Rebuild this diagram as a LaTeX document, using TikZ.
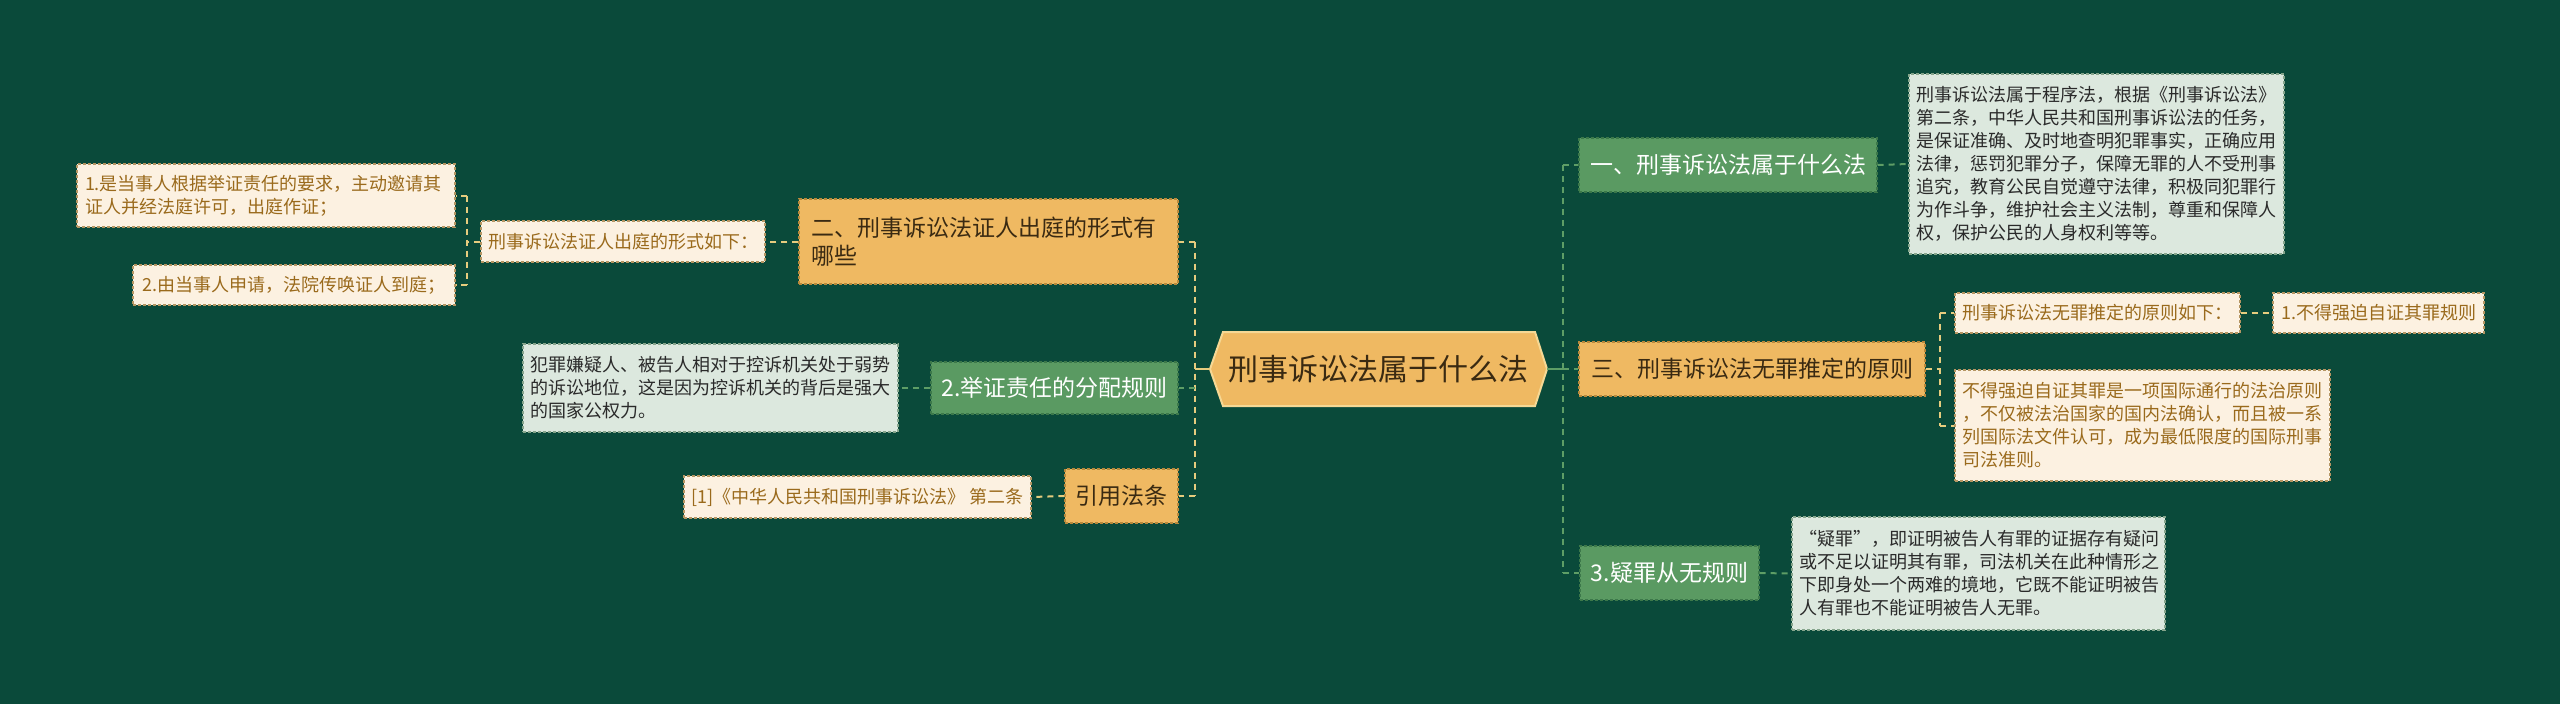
\documentclass[tikz,border=0pt]{standalone}
\usepackage{fontspec}
\setmainfont{Noto Sans CJK SC}
\usetikzlibrary{calc}
\definecolor{bg}{HTML}{0A4A3A}
\definecolor{ofill}{HTML}{EFB962}
\definecolor{oborder}{HTML}{B8893C}
\definecolor{otext}{HTML}{3A2A12}
\definecolor{gfill}{HTML}{5A9A62}
\definecolor{gborder}{HTML}{3C784A}
\definecolor{cfill}{HTML}{FCF1E1}
\definecolor{cborder}{HTML}{B59663}
\definecolor{ctext}{HTML}{9A6A1C}
\definecolor{dfill}{HTML}{DCE8DE}
\definecolor{dborder}{HTML}{86A58C}
\definecolor{dtext}{HTML}{2A2A2A}
\definecolor{yline}{HTML}{E6CC7E}
\definecolor{gline}{HTML}{5E9E66}
\definecolor{hexborder}{HTML}{F6D894}
\tikzset{
  x=0.5pt, y=-0.5pt,
  box/.style={draw, line width=0.6pt, dash pattern=on 1.5pt off 1pt, inner sep=0pt, align=left, anchor=center},
  obox/.style={box, fill=ofill, draw=oborder, text=otext, font=\fontsize{11.5}{14}\selectfont},
  gbox/.style={box, fill=gfill, draw=gborder, text=white, font=\fontsize{11.5}{14}\selectfont},
  cbox/.style={box, fill=cfill, draw=cborder, text=ctext, font=\fontsize{9}{11.5}\selectfont},
  dbox/.style={box, fill=dfill, draw=dborder, text=dtext, font=\fontsize{9}{11.5}\selectfont},
  ycon/.style={draw=yline, line width=1pt, dash pattern=on 3pt off 2.5pt},
  gcon/.style={draw=gline, line width=1pt, dash pattern=on 3pt off 2.5pt},
}
\begin{document}
\begin{tikzpicture}
\useasboundingbox (0,0) rectangle (2560,703);
\fill[bg] (-20,-20) rectangle (2580,723);

% center hexagon
\fill[ofill, draw=hexborder, line width=1pt] (1210,369) -- (1223,332) -- (1535,332) -- (1547,369) -- (1535,406) -- (1223,406) -- cycle;
\node[text=otext, font=\fontsize{15}{18}\selectfont, minimum width=337*0.5pt, minimum height=74*0.5pt, inner sep=0pt] (c) at (1378.5,369) {刑事诉讼法属于什么法};

% left side
\node[obox, minimum width=379*0.5pt, minimum height=85*0.5pt, text width=355*0.5pt] (n2) at (988.5,241.5) {二、刑事诉讼法证人出庭的形式有\\哪些};
\node[cbox, minimum width=284*0.5pt, minimum height=41*0.5pt] (n2a) at (623,241.5) {刑事诉讼法证人出庭的形式如下：};
\node[cbox, minimum width=378*0.5pt, minimum height=63*0.5pt, text width=362*0.5pt] (n2a1) at (266,195.5) {1.是当事人根据举证责任的要求，主动邀请其\\证人并经法庭许可，出庭作证；};
\node[cbox, minimum width=322*0.5pt, minimum height=40*0.5pt] (n2a2) at (294,285) {2.由当事人申请，法院传唤证人到庭；};

\node[gbox, minimum width=247*0.5pt, minimum height=52*0.5pt] (nj) at (1054.5,388) {2.举证责任的分配规则};
\node[dbox, minimum width=375*0.5pt, minimum height=88*0.5pt, text width=360*0.5pt] (nja) at (710.5,388) {犯罪嫌疑人、被告人相对于控诉机关处于弱势\\的诉讼地位，这是因为控诉机关的背后是强大\\的国家公权力。};

\node[obox, minimum width=113*0.5pt, minimum height=54*0.5pt] (nr) at (1121.5,496) {引用法条};
\node[cbox, minimum width=347*0.5pt, minimum height=42*0.5pt] (nra) at (857.5,497) {[1]《中华人民共和国刑事诉讼法》 第二条};

% right side
\node[gbox, minimum width=298*0.5pt, minimum height=54*0.5pt] (n1) at (1728,165) {一、刑事诉讼法属于什么法};
\node[dbox, minimum width=375*0.5pt, minimum height=180*0.5pt, text width=360*0.5pt] (n1a) at (2096.5,164) {刑事诉讼法属于程序法，根据《刑事诉讼法》\\第二条，中华人民共和国刑事诉讼法的任务，\\是保证准确、及时地查明犯罪事实，正确应用\\法律，惩罚犯罪分子，保障无罪的人不受刑事\\追究，教育公民自觉遵守法律，积极同犯罪行\\为作斗争，维护社会主义法制，尊重和保障人\\权，保护公民的人身权利等等。};

\node[obox, minimum width=346*0.5pt, minimum height=54*0.5pt] (n3) at (1752,369) {三、刑事诉讼法无罪推定的原则};
\node[cbox, minimum width=285*0.5pt, minimum height=40*0.5pt] (n3a) at (2097.5,313) {刑事诉讼法无罪推定的原则如下：};
\node[cbox, minimum width=211*0.5pt, minimum height=40*0.5pt] (n3a1) at (2378.5,313) {1.不得强迫自证其罪规则};
\node[cbox, minimum width=375*0.5pt, minimum height=111*0.5pt, text width=360*0.5pt] (n3b) at (2142.5,425.5) {不得强迫自证其罪是一项国际通行的法治原则\\，不仅被法治国家的国内法确认，而且被一系\\列国际法文件认可，成为最低限度的国际刑事\\司法准则。};

\node[gbox, minimum width=179*0.5pt, minimum height=54*0.5pt] (ny) at (1669.5,573) {3.疑罪从无规则};
\node[dbox, minimum width=373*0.5pt, minimum height=113*0.5pt, text width=358*0.5pt] (nya) at (1978.5,573.5) {“疑罪”，即证明被告人有罪的证据存有疑问\\或不足以证明其有罪，司法机关在此种情形之\\下即身处一个两难的境地，它既不能证明被告\\人有罪也不能证明被告人无罪。};

% trunk coordinates
\coordinate (tL) at (1195,369);
\coordinate (tR) at (1563,369);
\coordinate (b2) at (467,241.5);
\coordinate (b3) at (1940,369);

% connectors left
\draw[draw=yline, line width=1pt] (c.west) -- (tL);
\draw[ycon] (tL |- n2.east) -- (tL |- nr.east);
\draw[ycon] (tL |- n2.east) -- (n2.east);
\draw[gcon] (tL |- nj.east) -- (nj.east);
\draw[ycon] (tL |- nr.east) -- (nr.east);
\draw[ycon] (n2.west) -- (n2a.east);
\draw[ycon] (n2a.west) -- (b2);
\draw[ycon] (b2 |- n2a1.east) -- (b2 |- n2a2.east);
\draw[ycon] (b2 |- n2a1.east) -- (n2a1.east);
\draw[ycon] (b2 |- n2a2.east) -- (n2a2.east);
\draw[gcon] (nj.west) -- (nja.east);
\draw[ycon] (nr.west) -- (nra.east);

% connectors right
\draw[draw=gline, line width=1pt] (c.east) -- (tR);
\draw[gcon] (tR |- n1.west) -- (tR |- ny.west);
\draw[gcon] (tR |- n1.west) -- (n1.west);
\draw[gcon] (tR |- n3.west) -- (n3.west);
\draw[gcon] (tR |- ny.west) -- (ny.west);
\draw[gcon] (n1.east) -- (n1a.west);
\draw[ycon] (n3.east) -- (b3);
\draw[ycon] (b3 |- n3a.west) -- (b3 |- n3b.west);
\draw[ycon] (b3 |- n3a.west) -- (n3a.west);
\draw[ycon] (b3 |- n3b.west) -- (n3b.west);
\draw[ycon] (n3a.east) -- (n3a1.west);
\draw[gcon] (ny.east) -- (nya.west);
\end{tikzpicture}
\end{document}
